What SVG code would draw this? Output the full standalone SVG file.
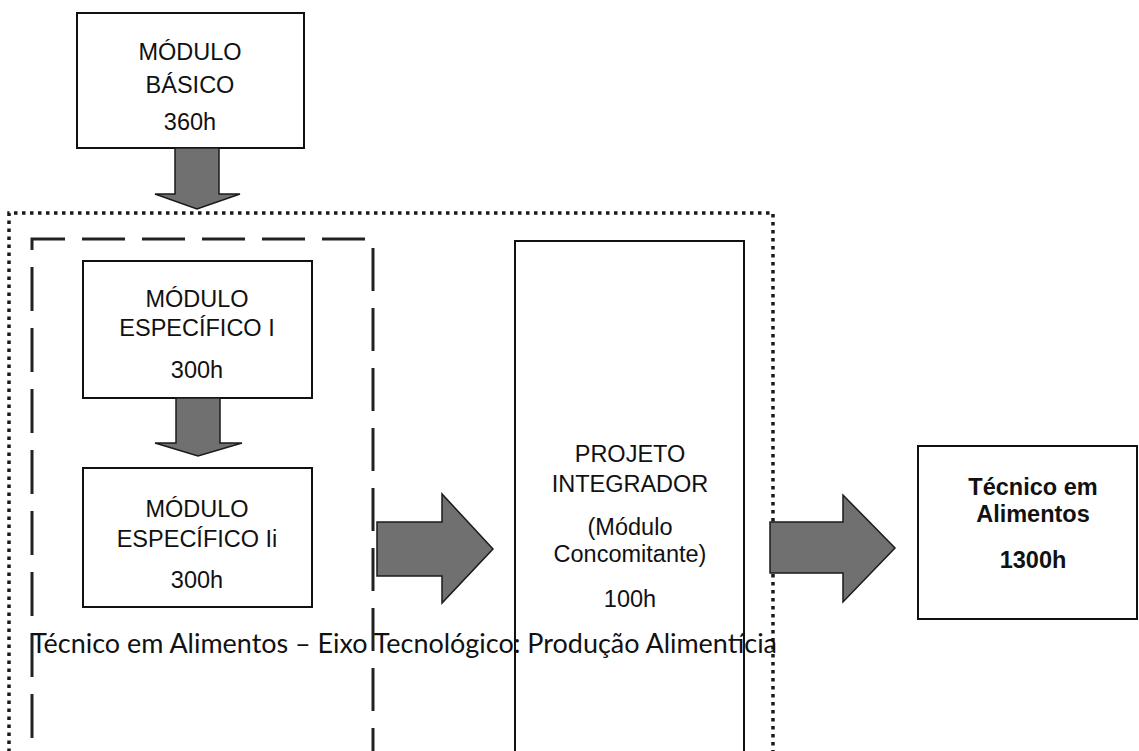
<svg xmlns="http://www.w3.org/2000/svg" width="1139" height="751" viewBox="0 0 1139 751">
<style>
.box{fill:#fff;stroke:#111;stroke-width:2}
.lbl{font-family:"Liberation Sans",Arial,sans-serif;font-size:23.5px;fill:#111;text-anchor:middle}
.bold{font-weight:bold}
.arrow{fill:#707070;stroke:#1a1a1a;stroke-width:1.5;stroke-linejoin:miter}
.dotted{fill:none;stroke:#1a1a1a;stroke-width:3.5;stroke-dasharray:3.5 4.5}
.dashed{fill:none;stroke:#222;stroke-width:3}
.caption{font-family:Lato,"Open Sans",sans-serif;font-size:27px;fill:#111}
</style>
<rect width="1139" height="751" fill="#fff"/>
<g id="frames">
<path class="dotted" d="M9,760 V213 H773 V760"/>
<path class="dashed" d="M65,239 H32 V760" stroke-dasharray="44 17"/>
<path class="dashed" d="M82,239 H373 V760" stroke-dasharray="43 17"/>
</g>
<g id="modulo-basico">
<rect class="box" x="77" y="13" width="227" height="135"/>
<text class="lbl" x="190" y="60">MÓDULO</text>
<text class="lbl" x="190" y="93">BÁSICO</text>
<text class="lbl" x="190" y="130">360h</text>
</g>
<g id="modulo-especifico-1">
<rect class="box" x="83" y="261" width="229" height="137"/>
<text class="lbl" x="197" y="307">MÓDULO</text>
<text class="lbl" x="197" y="336">ESPECÍFICO I</text>
<text class="lbl" x="197" y="378">300h</text>
</g>
<g id="modulo-especifico-2">
<rect class="box" x="83" y="468" width="229" height="139"/>
<text class="lbl" x="197" y="517">MÓDULO</text>
<text class="lbl" x="197" y="547">ESPECÍFICO Ii</text>
<text class="lbl" x="197" y="588">300h</text>
</g>
<g id="projeto-integrador">
<rect class="box" x="515" y="241" width="229" height="520"/>
<text class="lbl" x="630" y="462">PROJETO</text>
<text class="lbl" x="630" y="492">INTEGRADOR</text>
<text class="lbl" x="630" y="535">(Módulo</text>
<text class="lbl" x="630" y="562">Concomitante)</text>
<text class="lbl" x="630" y="607">100h</text>
</g>
<g id="tecnico-alimentos">
<rect class="box" x="918" y="446" width="219" height="173"/>
<text class="lbl bold" x="1033" y="495">Técnico em</text>
<text class="lbl bold" x="1033" y="522">Alimentos</text>
<text class="lbl bold" x="1033" y="568">1300h</text>
</g>
<g id="connectors">
<polygon class="arrow" points="175,148 219,148 219,194 240,194 197,209 155,194 175,194"/>
<polygon class="arrow" points="176,398 220,398 220,443 242,443 198,456 155,443 176,443"/>
<polygon class="arrow" points="377,522 442,522 442,494 493,549 442,603 442,576 377,576"/>
<polygon class="arrow" points="770,522 843,522 843,495 895,548 843,602 843,573 770,573"/>
</g>
<g id="caption">
<text class="caption" x="31" y="653" textLength="746" lengthAdjust="spacingAndGlyphs">Técnico em Alimentos – Eixo Tecnológico: Produção Alimentícia</text>
</g>
</svg>
